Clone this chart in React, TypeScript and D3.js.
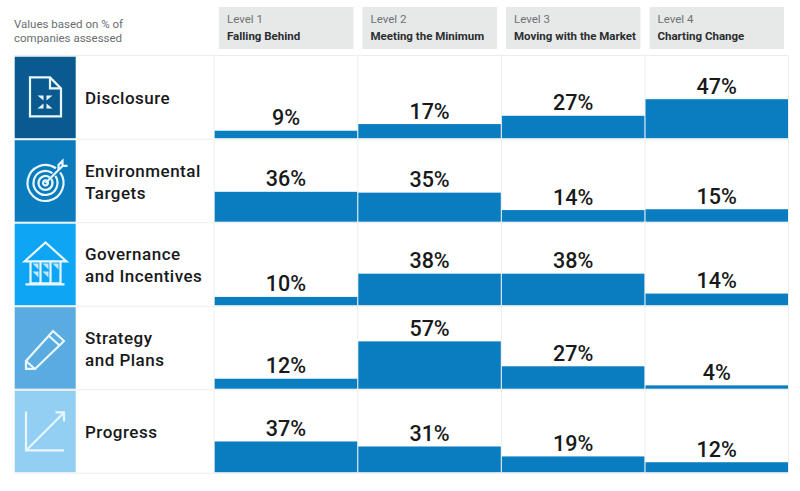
import { useEffect, useRef } from 'react'
import * as d3 from 'd3'

const categories = ['Disclosure', 'Environmental Targets', 'Governance and Incentives', 'Strategy and Plans', 'Progress']
const categoryLines = [['Disclosure'], ['Environmental', 'Targets'], ['Governance', 'and Incentives'], ['Strategy', 'and Plans'], ['Progress']]
const categoryColors = ['#0b5a8f', '#0a7bbd', '#0ea5f5', '#5aace0', '#93cff2']
const levels = ['Level 1', 'Level 2', 'Level 3', 'Level 4']
const levelNames = ['Falling Behind', 'Meeting the Minimum', 'Moving with the Market', 'Charting Change']
const level1 = [9, 36, 10, 12, 37]
const level2 = [17, 35, 38, 57, 31]
const level3 = [27, 14, 38, 27, 19]
const level4 = [47, 15, 14, 4, 12]
const noteLines = ['Values based on % of', 'companies assessed']

const font = 'Roboto, sans-serif'
const width = 800
const height = 491
const iconColor = '#e8f7ff'

// icon outlines, relative to the middle of each tile
const iconPaths: string[][] = [
  [
    'M-15.5,-20 H4.5 L15.5,-9 V19 H-15.5 Z',
    'M4.5,-20 V-9 H15.5',
  ],
  [],
  [
    'M-21,-3 L0,-22 L21,-3 Z',
    'M-15,-3 V19 H15 V-3',
    'M-5,-3 V19 M5,-3 V19',
    'M-20,20 H19',
  ],
  [
    'M-19.5,21 V13 L7.5,-17 L18.5,-7 L-10.5,21 Z',
    'M-19.5,13 L-10.5,21',
    'M3.5,-12 L13.5,-3',
  ],
  [
    'M-19.5,-20 V19 H18.5',
    'M-19.5,19 L18.5,-19',
    'M10,-19 H18.5 V-10',
  ],
]

const disclosureMarks = ['M-8,-2 H-2 V3 Z', 'M7,-2 H1 V3 Z', 'M-8,11 H-2 V6 Z', 'M7,11 H1 V6 Z']
const governanceMarks = [
  'M-13,-1 H-7 V5 Z', 'M-3,-1 H3 V5 Z', 'M7,-1 H13 V5 Z',
  'M-13,7 H-7 V13 Z', 'M-3,7 H3 V13 Z',
]
const targetRadii = [18, 12, 7, 2.5]

export default function App() {
  const svgRef = useRef<SVGSVGElement>(null)

  useEffect(() => {
    if (!svgRef.current) return
    const svg = d3.select(svgRef.current)
    svg.selectAll('*').remove()

    const series = [level1, level2, level3, level4]

    const rowScale = d3.scaleBand<string>().domain(categories).range([56.7, 472.2]).paddingInner(0.024)
    const colScale = d3.scaleBand<string>().domain(levels).range([214.7, 788]).paddingInner(0.0077)
    const headScale = d3.scaleBand<string>().domain(levels).range([219, 784]).paddingInner(0.0627)
    const barScale = d3.scaleLinear().domain([0, 100]).range([0, 83])

    svg.append('rect').attr('width', width).attr('height', height).attr('fill', '#ffffff')

    // Note
    noteLines.forEach((t, i) => {
      svg.append('text').attr('x', 14).attr('y', 28 + i * 14)
        .attr('font-family', font).attr('font-size', 11.5).attr('fill', '#6a6e71').text(t)
    })

    // Column headers
    levels.forEach((l, i) => {
      const g = svg.append('g').attr('transform', `translate(${headScale(l)},7)`)
      g.append('rect').attr('width', headScale.bandwidth()).attr('height', 42).attr('fill', '#e7e9e9')
      g.append('text').attr('x', 8).attr('y', 16).attr('font-family', font)
        .attr('font-size', 11.5).attr('fill', '#6e7274').text(l)
      g.append('text').attr('x', 8).attr('y', 33).attr('font-family', font)
        .attr('font-size', 11.5).attr('font-weight', 700).attr('fill', '#2b2e30').text(levelNames[i])
    })

    // Grid rules
    const tableLines = svg.append('g').attr('stroke', '#eceeee').attr('fill', 'none')
    tableLines.append('line').attr('x1', 14).attr('x2', 788).attr('y1', 55.5).attr('y2', 55.5)
    categories.forEach((c) => {
      const y = (rowScale(c) as number) + rowScale.bandwidth() + 1
      tableLines.append('line').attr('x1', 14).attr('x2', 788).attr('y1', y).attr('y2', y)
    })
    levels.forEach((l) => {
      const x = colScale(l) as number
      tableLines.append('line').attr('x1', x - 0.5).attr('x2', x - 0.5).attr('y1', 56).attr('y2', 473)
    })
    tableLines.append('line').attr('x1', 788.5).attr('x2', 788.5).attr('y1', 56).attr('y2', 473)

    // Rows
    categories.forEach((c, r) => {
      const y = rowScale(c) as number
      const h = rowScale.bandwidth()
      svg.append('rect').attr('x', 14.7).attr('y', y).attr('width', 61).attr('height', h).attr('fill', categoryColors[r])

      const icon = svg.append('g').attr('transform', `translate(45.5,${y + h / 2})`)
        .attr('fill', 'none').attr('stroke', iconColor).attr('stroke-width', 2.2)
      iconPaths[r].forEach((d) => icon.append('path').attr('d', d))
      if (r === 0) {
        disclosureMarks.forEach((d) => icon.append('path').attr('d', d).attr('fill', iconColor).attr('stroke', 'none'))
      }
      if (r === 1) {
        targetRadii.forEach((radius) => {
          const arc = d3.arc().innerRadius(radius).outerRadius(radius).startAngle(0.95).endAngle(6.9)
          icon.append('path').attr('d', arc({} as any) as string).attr('transform', 'translate(0,2)')
        })
        icon.append('path').attr('d', 'M0,2 L17,-15 M13,-11 V-16 L17,-20 V-15 H22')
      }
      if (r === 2) {
        governanceMarks.forEach((d) => icon.append('path').attr('d', d).attr('fill', '#c4e8fb').attr('stroke', 'none'))
      }

      const lines = categoryLines[r]
      lines.forEach((t, i) => {
        svg.append('text').attr('x', 85)
          .attr('y', y + h / 2 + 6.7 + (i - (lines.length - 1) / 2) * 22)
          .attr('font-family', font).attr('font-size', 17).attr('font-weight', 500)
          .attr('letter-spacing', 0.5).attr('fill', '#17191a').text(t)
      })

      // Bars
      levels.forEach((l, k) => {
        const v = series[k][r]
        const x = colScale(l) as number
        const bh = barScale(v)
        const base = y + h
        svg.append('rect').attr('x', x).attr('y', base - bh).attr('width', colScale.bandwidth())
          .attr('height', bh).attr('fill', '#0a7cc0')
        svg.append('text').attr('x', x + colScale.bandwidth() / 2).attr('y', base - bh - 5.5)
          .attr('text-anchor', 'middle').attr('font-family', font).attr('font-size', 21.5)
          .attr('font-weight', 500).attr('fill', '#17191a').text(`${v}%`)
      })
    })
  }, [])

  return <svg ref={svgRef} width={width} height={height} style={{ position: 'absolute', left: 0, top: 0 }} />
}
